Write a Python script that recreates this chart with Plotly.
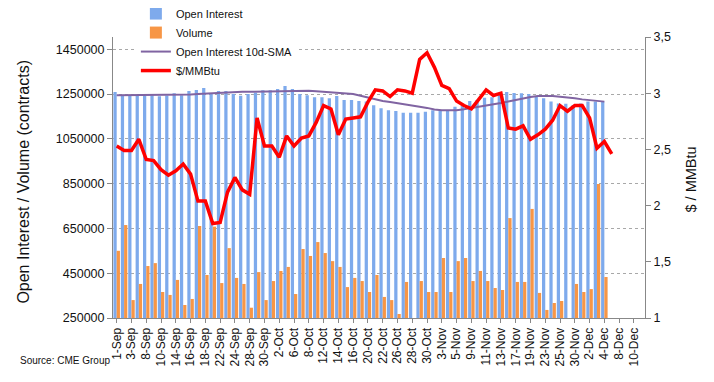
import plotly.graph_objects as go

# ---- data ----
categories = [
    "1-Sep", "2-Sep", "3-Sep", "4-Sep", "8-Sep", "9-Sep", "10-Sep", "11-Sep", "14-Sep", "15-Sep",
    "16-Sep", "17-Sep", "18-Sep", "21-Sep", "22-Sep", "23-Sep", "24-Sep", "25-Sep", "28-Sep", "29-Sep",
    "30-Sep", "1-Oct", "2-Oct", "5-Oct", "6-Oct", "7-Oct", "8-Oct", "9-Oct", "12-Oct", "13-Oct",
    "14-Oct", "15-Oct", "16-Oct", "19-Oct", "20-Oct", "21-Oct", "22-Oct", "23-Oct", "26-Oct", "27-Oct",
    "28-Oct", "29-Oct", "30-Oct", "2-Nov", "3-Nov", "4-Nov", "5-Nov", "6-Nov", "9-Nov", "10-Nov",
    "11-Nov", "12-Nov", "13-Nov", "16-Nov", "17-Nov", "18-Nov", "19-Nov", "20-Nov", "23-Nov", "24-Nov",
    "25-Nov", "27-Nov", "30-Nov", "1-Dec", "2-Dec", "3-Dec", "4-Dec", "7-Dec", "8-Dec", "9-Dec",
    "10-Dec", "11-Dec",
]

open_interest = [
    1259000, 1245000, 1243000, 1246000, 1242000, 1244000, 1240000, 1243000, 1253000, 1245000,
    1263000, 1268000, 1277000, 1250000, 1263000, 1263000, 1250000, 1242000, 1250000, 1256000,
    1267000, 1267000, 1272000, 1286000, 1272000, 1250000, 1245000, 1235000, 1235000, 1231000,
    1241000, 1223000, 1223000, 1219000, 1217000, 1200000, 1186000, 1178000, 1174000, 1166000,
    1166000, 1166000, 1171000, 1178000, 1178000, 1178000, 1193000, 1200000, 1219000, 1223000,
    1233000, 1235000, 1249000, 1259000, 1255000, 1253000, 1250000, 1238000, 1231000, 1216000,
    1208000, 1206000, 1201000, 1208000, 1216000, 1216000, 1216000,
]

volume = [
    550000, 665000, 330000, 402000, 482000, 495000, 366000, 353000, 420000, 308000,
    335000, 661000, 442000, 658000, 406000, 562000, 429000, 402000, 296000, 455000,
    330000, 415000, 460000, 478000, 357000, 558000, 527000, 589000, 540000, 504000,
    478000, 388000, 429000, 415000, 366000, 442000, 344000, 330000, 268000, 411000,
    None, 415000, 366000, 366000, 518000, 366000, 504000, 518000, 415000, 460000,
    415000, 384000, 375000, 696000, 411000, 411000, 737000, 362000, 286000, 317000,
    326000, None, 402000, 366000, 379000, 848000, 433000,
]

oi_sma10 = [
    1245000, 1245000, 1245000, 1245000, 1245000, 1245000, 1246000, 1246000, 1246000, 1247000,
    1248000, 1250000, 1252000, 1254000, 1256000, 1258000, 1259000, 1260000, 1260000, 1261000,
    1262000, 1263000, 1264000, 1265000, 1266000, 1267000, 1265000, 1262000, 1259000, 1258000,
    1256000, 1253000, 1250000, 1242000, 1234000, 1225000, 1219000, 1214000, 1208000, 1203000,
    1198000, 1193000, 1188000, 1181000, 1178000, 1177000, 1178000, 1182000, 1187000, 1193000,
    1198000, 1204000, 1210000, 1217000, 1224000, 1231000, 1237000, 1241000, 1242000, 1241000,
    1238000, 1236000, 1231000, 1226000, 1222000, 1219000, 1216000,
]

price = [
    2.53, 2.49, 2.49, 2.59, 2.41, 2.40, 2.32, 2.27, 2.31, 2.37,
    2.28, 2.04, 2.04, 1.84, 1.85, 2.12, 2.25, 2.14, 2.10, 2.78,
    2.53, 2.53, 2.43, 2.62, 2.53, 2.60, 2.62, 2.74, 2.89, 2.86,
    2.63, 2.77, 2.78, 2.79, 2.92, 3.03, 3.02, 2.97, 3.03, 3.02,
    3.00, 3.30, 3.36, 3.23, 3.07, 3.04, 2.93, 2.89, 2.86, 2.95,
    3.03, 2.98, 3.00, 2.69, 2.68, 2.71, 2.59, 2.63, 2.68, 2.76,
    2.89, 2.84, 2.89, 2.89, 2.78, 2.51, 2.57, 2.46,
]

left_ticks = [250000, 450000, 650000, 850000, 1050000, 1250000, 1450000]
right_ticks = [1, 1.5, 2, 2.5, 3, 3.5]
right_tick_text = ["1", "1,5", "2", "2,5", "3", "3,5"]
x_tick_labels = categories[::2]

FONT = "Liberation Sans, Arial, sans-serif"

fig = go.Figure()
fig.add_trace(go.Bar(
    x=categories[:len(open_interest)], y=open_interest, name="Open Interest",
    marker=dict(color="#7EAAEC", line=dict(width=0)),
))
fig.add_trace(go.Bar(
    x=categories[:len(volume)], y=volume, name="Volume",
    marker=dict(color="#F79646", line=dict(width=0)),
))
fig.add_trace(go.Scatter(
    x=categories[:len(oi_sma10)], y=oi_sma10, name="Open Interest 10d-SMA",
    mode="lines", line=dict(color="#8064A2", width=2),
))
fig.add_trace(go.Scatter(
    x=categories[:len(price)], y=price, name="$/MMBtu", yaxis="y2",
    mode="lines", line=dict(color="#FF0000", width=3.5),
))

fig.update_layout(
    width=706, height=374,
    margin=dict(l=105, r=69, t=29, b=64, autoexpand=False),
    paper_bgcolor="white", plot_bgcolor="white",
    font=dict(family=FONT, size=12, color="#111"),
    barmode="group", bargap=0.12, bargroupgap=0,
    showlegend=True,
    legend=dict(
        x=0.043, y=1.135, xanchor="left", yanchor="top",
        bgcolor="white", borderwidth=0,
        font=dict(family=FONT, size=11, color="#111"),
        tracegroupgap=0, traceorder="normal",
    ),
    xaxis=dict(
        type="category", categoryorder="array", categoryarray=categories,
        range=[-0.5, len(categories) - 0.5],
        tickmode="array", tickvals=x_tick_labels, ticktext=x_tick_labels,
        tickangle=-90, tickfont=dict(family=FONT, size=12, color="#111"),
        ticks="outside", ticklen=4, tickcolor="#888",
        showline=True, linecolor="#888", linewidth=1,
        showgrid=False, zeroline=False,
    ),
    yaxis=dict(
        range=[250000, 1504500],
        tickmode="array", tickvals=left_ticks, ticktext=[str(v) for v in left_ticks],
        tickfont=dict(family=FONT, size=12.5, color="#111"),
        ticks="outside", ticklen=5, tickcolor="#888",
        showline=True, linecolor="#888", linewidth=1,
        showgrid=True, gridcolor="#A8A8A8", griddash="dot", gridwidth=1,
        zeroline=False,
    ),
    yaxis2=dict(
        overlaying="y", side="right", range=[1, 3.5],
        tickmode="array", tickvals=right_ticks, ticktext=right_tick_text,
        tickfont=dict(family=FONT, size=12.5, color="#111"),
        ticks="outside", ticklen=5, tickcolor="#888",
        showline=True, linecolor="#888", linewidth=1,
        showgrid=False, zeroline=False,
    ),
    annotations=[
        dict(text="Open Interest / Volume (contracts)", textangle=-90,
             xref="paper", yref="paper", x=-0.168, y=0.484,
             xanchor="center", yanchor="middle", showarrow=False,
             font=dict(family=FONT, size=16, color="#111")),
        dict(text="$ / MMBtu", textangle=-90,
             xref="paper", yref="paper", x=1.0865, y=0.493,
             xanchor="center", yanchor="middle", showarrow=False,
             font=dict(family=FONT, size=14.5, color="#111")),
        dict(text="Source: CME Group",
             xref="paper", yref="paper", x=-0.1786, y=-0.153,
             xanchor="left", yanchor="middle", showarrow=False,
             font=dict(family=FONT, size=10, color="#111")),
    ],
)

fig.write_html("out.html")
